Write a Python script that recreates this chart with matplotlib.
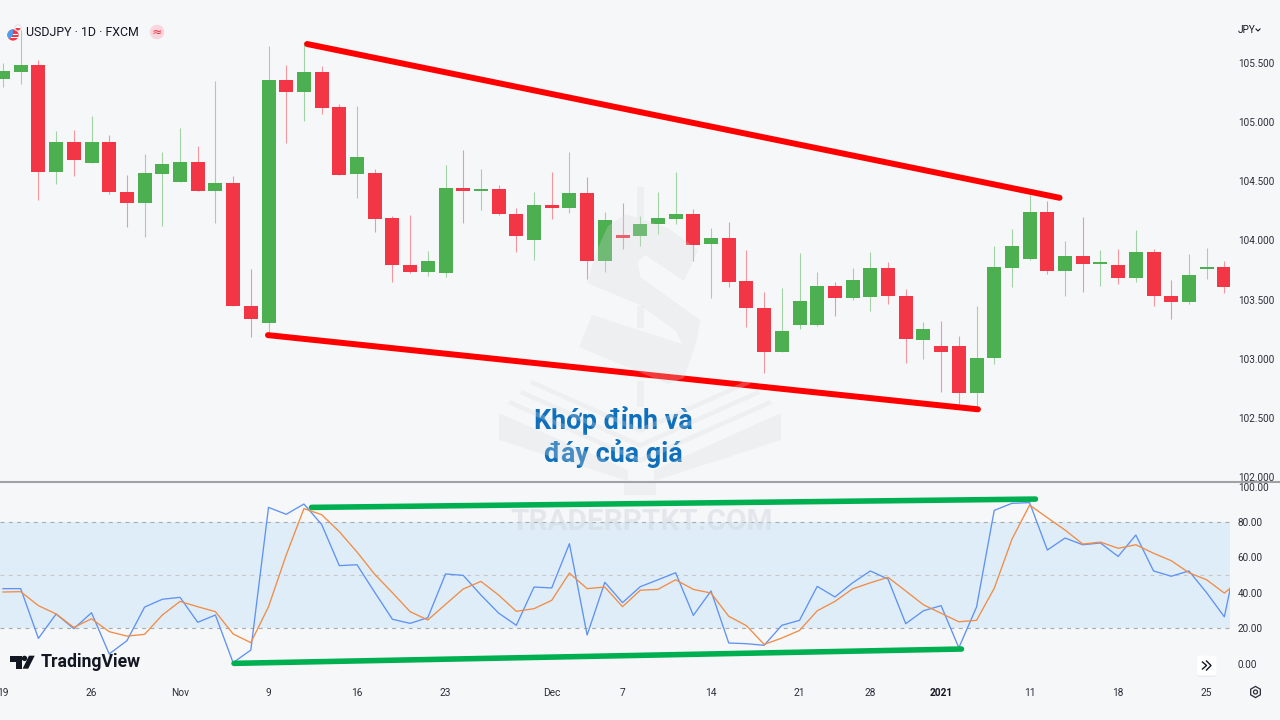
import matplotlib
matplotlib.use("Agg")
from matplotlib import pyplot as plt
from matplotlib.patches import Circle, FancyBboxPatch, Polygon, Rectangle, RegularPolygon, Wedge

# daily candles
opens = [105.365, 105.428, 105.483, 104.583, 104.832, 104.654, 104.832, 104.409, 104.317, 104.566,
         104.494, 104.663, 104.418, 104.490, 103.447, 103.303, 105.356, 105.255, 105.424, 105.128,
         104.566, 104.570, 104.186, 103.796, 103.736, 103.727, 104.441, 104.418, 104.435, 104.226,
         104.001, 104.302, 104.277, 104.401, 103.829, 104.046, 104.040, 104.137, 104.181, 104.226,
         103.973, 104.018, 103.657, 103.433, 103.060, 103.286, 103.286, 103.618, 103.511, 103.520,
         103.764, 103.533, 103.162, 103.106, 103.106, 102.714, 103.005, 103.769, 103.843, 104.238,
         103.744, 103.871, 103.798, 103.792, 103.680, 103.900, 103.533, 103.478, 103.758, 103.775]
highs = [105.500, 105.779, 105.525, 104.925, 104.933, 105.054, 104.891, 104.553, 104.731, 104.747,
         104.950, 104.801, 105.348, 104.545, 103.758, 105.646, 105.483, 105.677, 105.477, 105.153,
         105.139, 104.604, 104.207, 104.215, 103.911, 104.637, 104.764, 104.601, 104.468, 104.277,
         104.412, 104.581, 104.750, 104.539, 104.243, 104.314, 104.207, 104.407, 104.581, 104.266,
         104.102, 104.154, 103.919, 103.562, 103.596, 103.891, 103.736, 103.651, 103.769, 103.900,
         103.815, 103.587, 103.314, 103.320, 103.193, 103.444, 103.956, 104.097, 104.384, 104.333,
         103.995, 104.198, 103.917, 103.928, 104.086, 103.928, 103.668, 103.888, 103.939, 103.826]
lows = [105.297, 105.322, 104.342, 104.477, 104.548, 104.654, 104.392, 104.116, 104.029, 104.125,
        104.494, 104.418, 104.151, 103.447, 103.184, 103.218, 104.823, 105.009, 105.071, 104.553,
        104.361, 104.071, 103.651, 103.725, 103.702, 103.689, 104.151, 104.257, 104.215, 103.905,
        103.835, 104.181, 104.230, 103.677, 103.736, 103.925, 103.956, 104.055, 104.139, 103.829,
        103.511, 103.609, 103.267, 102.878, 103.060, 103.252, 103.281, 103.362, 103.497, 103.407,
        103.466, 102.968, 102.999, 102.720, 102.619, 102.596, 102.957, 103.609, 103.835, 103.719,
        103.531, 103.567, 103.618, 103.634, 103.651, 103.449, 103.335, 103.466, 103.677, 103.556]
closes = [105.432, 105.483, 104.583, 104.832, 104.680, 104.832, 104.409, 104.317, 104.570, 104.646,
          104.663, 104.418, 104.490, 103.447, 103.337, 105.356, 105.255, 105.424, 105.124, 104.553,
          104.705, 104.181, 103.792, 103.733, 103.826, 104.441, 104.418, 104.435, 104.221, 104.035,
          104.300, 104.277, 104.401, 103.829, 104.171, 104.018, 104.142, 104.187, 104.226, 103.962,
          104.018, 103.651, 103.427, 103.060, 103.235, 103.489, 103.618, 103.511, 103.668, 103.764,
          103.528, 103.165, 103.252, 103.055, 102.714, 103.010, 103.775, 103.951, 104.238, 103.744,
          103.871, 103.798, 103.820, 103.680, 103.900, 103.528, 103.478, 103.708, 103.775, 103.607]

# RSI pane, the last point sits just past the clipped right edge
rsi_values = [42.3, 42.3, 14.2, 28.0, 19.7, 28.7, 5.4, 12.9, 31.9, 36.3,
              37.4, 23.3, 27.4, 0.5, 7.6, 88.2, 84.3, 90.1, 78.6, 55.3,
              55.8, 40.2, 25.0, 22.7, 25.9, 50.6, 49.8, 38.7, 28.5, 21.6,
              43.2, 42.7, 67.7, 16.1, 45.9, 34.4, 43.4, 47.3, 51.3, 27.2,
              41.0, 11.6, 11.2, 10.3, 21.6, 24.4, 43.6, 37.6, 45.6, 52.3,
              47.7, 22.5, 29.8, 32.7, 8.9, 31.9, 86.5, 90.5, 90.9, 64.1,
              70.9, 67.1, 68.1, 60.5, 72.6, 52.3, 49.3, 52.3, 40.0, 26.4, 74.0]
rsi_ma_values = [40.4, 40.6, 32.7, 28.0, 20.4, 25.3, 18.0, 15.5, 16.5, 27.4,
                 35.1, 32.1, 29.3, 16.7, 11.8, 32.1, 61.3, 87.5, 84.1, 74.5,
                 63.0, 50.4, 40.0, 29.3, 24.6, 33.4, 42.1, 46.4, 38.7, 29.5,
                 31.0, 35.7, 51.1, 42.3, 43.2, 32.1, 41.4, 41.9, 47.3, 41.9,
                 39.8, 26.7, 21.4, 10.8, 14.4, 18.7, 29.8, 35.1, 42.2, 45.6,
                 48.7, 41.0, 33.2, 28.4, 23.6, 24.4, 42.5, 70.2, 89.5, 82.4,
                 75.4, 67.5, 68.6, 65.1, 67.1, 62.3, 58.1, 51.3, 47.3, 39.8, 48.0]

# hand drawn trend lines, bar index and value
top_line_x, top_line_y = [17.18, 59.69], [105.661, 104.361]
bottom_line_x, bottom_line_y = [14.97, 55.08], [103.20, 102.573]
rsi_top_x, rsi_top_y = [17.43, 58.33], [88.2, 92.9]
rsi_bottom_x, rsi_bottom_y = [13.05, 54.15], [0.1, 8.2]

price_ticks = [102.0, 102.5, 103.0, 103.5, 104.0, 104.5, 105.0, 105.5]
rsi_ticks = [0, 20, 40, 60, 80, 100]
date_ticks = [0, 5, 10, 15, 20, 25, 31, 35, 40, 45, 49, 53, 58, 63, 68]
date_labels = ["19", "26", "Nov", "9", "16", "23", "Dec", "7", "14", "21", "28", "2021", "11", "18", "25"]

BG = "#f6f7f9"
GREEN = "#4caf50"
RED = "#f23645"
TEXT = "#2a2e39"
FONT = "Roboto"

plt.rcParams["font.family"] = [FONT, "DejaVu Sans"]

fig = plt.figure(figsize=(12.8, 7.2), dpi=100, facecolor=BG)

# price pane
ax = fig.add_axes([0, 239 / 720, 1230 / 1280, 481 / 720], facecolor="none")
bars = range(len(opens))
colors = [GREEN if c >= o else RED for o, c in zip(opens, closes)]
ax.vlines(bars, lows, highs, colors=colors, linewidth=0.8, alpha=0.5, zorder=2)
ax.bar(bars, [abs(c - o) for o, c in zip(opens, closes)], bottom=[min(o, c) for o, c in zip(opens, closes)],
       width=0.79, color=colors, linewidth=0, zorder=3)
ax.plot(top_line_x, top_line_y, color="#ff0000", linewidth=4.3, solid_capstyle="round", zorder=5, clip_on=False)
ax.plot(bottom_line_x, bottom_line_y, color="#ff0000", linewidth=4.3, solid_capstyle="round", zorder=5, clip_on=False)
ax.set_xlim(-0.17, 69.32)
ax.set_ylim(101.967, 106.033)
ax.set_xticks([])
ax.yaxis.tick_right()
ax.set_yticks(price_ticks, [f"{p:.3f}" for p in price_ticks])
ax.tick_params(axis="y", length=0, pad=5.6, labelsize=7.2, labelcolor=TEXT)
for side in ax.spines.values():
    side.set_visible(False)

# RSI pane
ax2 = fig.add_axes([0, 40 / 720, 1230 / 1280, 197 / 720], facecolor="none")
ax2.axhspan(20, 80, color="#dfedf8", linewidth=0, zorder=1)
ax2.axhline(80, color="#a8aaae", linewidth=0.8, dashes=(3.5, 4), zorder=2)
ax2.axhline(50, color="#c4c7cb", linewidth=0.8, dashes=(3.5, 4), zorder=2)
ax2.axhline(20, color="#a8aaae", linewidth=0.8, dashes=(3.5, 4), zorder=2)
ax2.plot(range(len(rsi_values)), rsi_values, color="#5f92f2", linewidth=0.95, zorder=3)
ax2.plot(range(len(rsi_ma_values)), rsi_ma_values, color="#f28c45", linewidth=0.95, zorder=4)
ax2.plot(rsi_top_x, rsi_top_y, color="#00b050", linewidth=4, solid_capstyle="round", zorder=5, clip_on=False)
ax2.plot(rsi_bottom_x, rsi_bottom_y, color="#00b050", linewidth=4, solid_capstyle="round", zorder=5, clip_on=False)
ax2.set_xlim(-0.17, 69.32)
ax2.set_ylim(-9.3, 101.98)
ax2.yaxis.tick_right()
ax2.set_yticks(rsi_ticks, [f"{v:.2f}" for v in rsi_ticks])
ax2.set_xticks(date_ticks, date_labels)
ax2.tick_params(axis="y", length=0, pad=5.6, labelsize=7.2, labelcolor=TEXT)
ax2.tick_params(axis="x", length=0, pad=6, labelsize=7.3, labelcolor=TEXT)
for label in ax2.get_xticklabels():
    if label.get_text() == "2021":
        label.set_fontweight("bold")
        label.set_color("#131722")
for side in ax2.spines.values():
    side.set_visible(False)

# overlay in pixels for the screenshot furniture and watermark
over = fig.add_axes([0, 0, 1, 1], facecolor="none", zorder=10)
over.set_xlim(0, 1280)
over.set_ylim(720, 0)
over.axis("off")

over.plot([0, 1280], [482, 482], color="#a0a2a6", linewidth=1.5, zorder=1)

# title row
over.add_patch(Circle((13, 35), 5.6, facecolor="#f23645", edgecolor="none", zorder=2))
over.add_patch(Rectangle((8, 33.5), 10, 1.4, facecolor="white", edgecolor="none", zorder=3))
over.add_patch(Rectangle((8, 36.5), 10, 1.2, facecolor="white", edgecolor="none", zorder=3))
over.add_patch(Wedge((13, 35), 5.6, 130, 270, facecolor="#4f9cf0", edgecolor="none", zorder=4))
over.add_patch(Circle((18, 28), 3.2, facecolor="white", edgecolor="#d8d8dc", linewidth=0.6, zorder=4))
over.add_patch(Wedge((18, 28), 2.4, 0, 180, facecolor="#f23645", edgecolor="none", zorder=5))
over.text(26, 32.5, "USDJPY · 1D · FXCM", fontsize=8.9, color="#131722", va="center", ha="left", zorder=5)
over.add_patch(Circle((157, 32), 7.3, facecolor="#f9d6dd", edgecolor="none", zorder=2))
over.text(157, 32, "≈", fontsize=9, color="#f23645", va="center", ha="center", family="DejaVu Sans", zorder=3)
over.text(1238, 30, "JPY", fontsize=7.2, color="#131722", va="center", ha="left")
over.plot([1256, 1258, 1260], [29, 31, 29], color="#131722", linewidth=0.8)

# annotation
over.text(613, 421, "Khớp đỉnh và", fontsize=19.4, fontweight="bold", color="#0e70bc", ha="center", va="center", zorder=4)
over.text(613, 453, "đáy của giá", fontsize=19.4, fontweight="bold", color="#0e70bc", ha="center", va="center", zorder=4)

# TradingView logo
over.add_patch(Polygon([(10, 655.7), (21.5, 655.7), (21.5, 668.7), (15.5, 668.7), (15.5, 661.5), (10, 661.5)],
                       facecolor="#131722", edgecolor="none", zorder=6))
over.add_patch(Circle((24.5, 658.4), 2.7, facecolor="#131722", edgecolor="none", zorder=6))
over.add_patch(Polygon([(29, 655.7), (34.7, 655.7), (28.2, 668.7), (22.6, 668.7)],
                       facecolor="#131722", edgecolor="none", zorder=6))
over.text(41, 662, "TradingView", fontsize=12.7, fontweight="bold", color="#131722", va="center", ha="left", zorder=6)

# scroll button and settings gear
over.add_patch(FancyBboxPatch((1198.7, 658.7), 16, 16, boxstyle="round,pad=2,rounding_size=3",
                              facecolor="#e6e7ea", edgecolor="none", zorder=5))
over.add_patch(FancyBboxPatch((1198.7, 657.7), 16, 16, boxstyle="round,pad=2,rounding_size=3",
                              facecolor="white", edgecolor="none", zorder=6))
over.plot([1202.5, 1206.5, 1202.5], [662, 665.5, 669], color="#131722", linewidth=1, zorder=7)
over.plot([1206.5, 1211, 1206.5], [661, 665.5, 670], color="#131722", linewidth=1, zorder=7)
over.add_patch(RegularPolygon((1255.5, 692), 6, radius=5.6, facecolor="none", edgecolor="#2a2e39", linewidth=0.9))
over.add_patch(Circle((1255.5, 692), 2, facecolor="none", edgecolor="#2a2e39", linewidth=0.9))

# watermark sits over everything, semi transparent
WM = dict(facecolor="#d6dad9", edgecolor="none", alpha=0.27, zorder=8)
s_shape = [(587, 283), (597, 250), (608, 226), (626, 214), (668, 228), (698, 250), (684, 281), (645, 255), (638, 262),
           (640, 277), (700, 320), (697, 340), (684, 378), (668, 384), (579, 347), (592, 315), (682, 344), (676, 331),
           (640, 305)]
for pts in [s_shape,
            [(637, 187), (644, 187), (644, 219), (637, 219)],
            [(637, 306), (644, 306), (644, 328), (637, 328)],
            [(637, 381), (644, 381), (644, 407), (637, 407)],
            [(499, 413), (628, 470), (628, 481), (499, 440)],
            [(781, 413), (654, 470), (654, 481), (781, 440)],
            [(510, 400), (640, 458), (770, 400), (772, 404), (640, 463), (508, 404)],
            [(522, 390), (640, 443), (758, 390), (760, 394), (640, 448), (520, 394)],
            [(532, 380), (640, 428), (748, 380), (750, 384), (640, 433), (530, 384)],
            [(624, 483), (656, 483), (656, 495), (624, 495)]]:
    over.add_patch(Polygon(pts, **WM))
over.text(642, 522, "TRADERPTKT.COM", fontsize=21.4, fontweight="bold", color="#d2d8e0", alpha=0.5,
          ha="center", va="center", zorder=8)

fig.savefig("out.png", dpi=100, facecolor=BG)
